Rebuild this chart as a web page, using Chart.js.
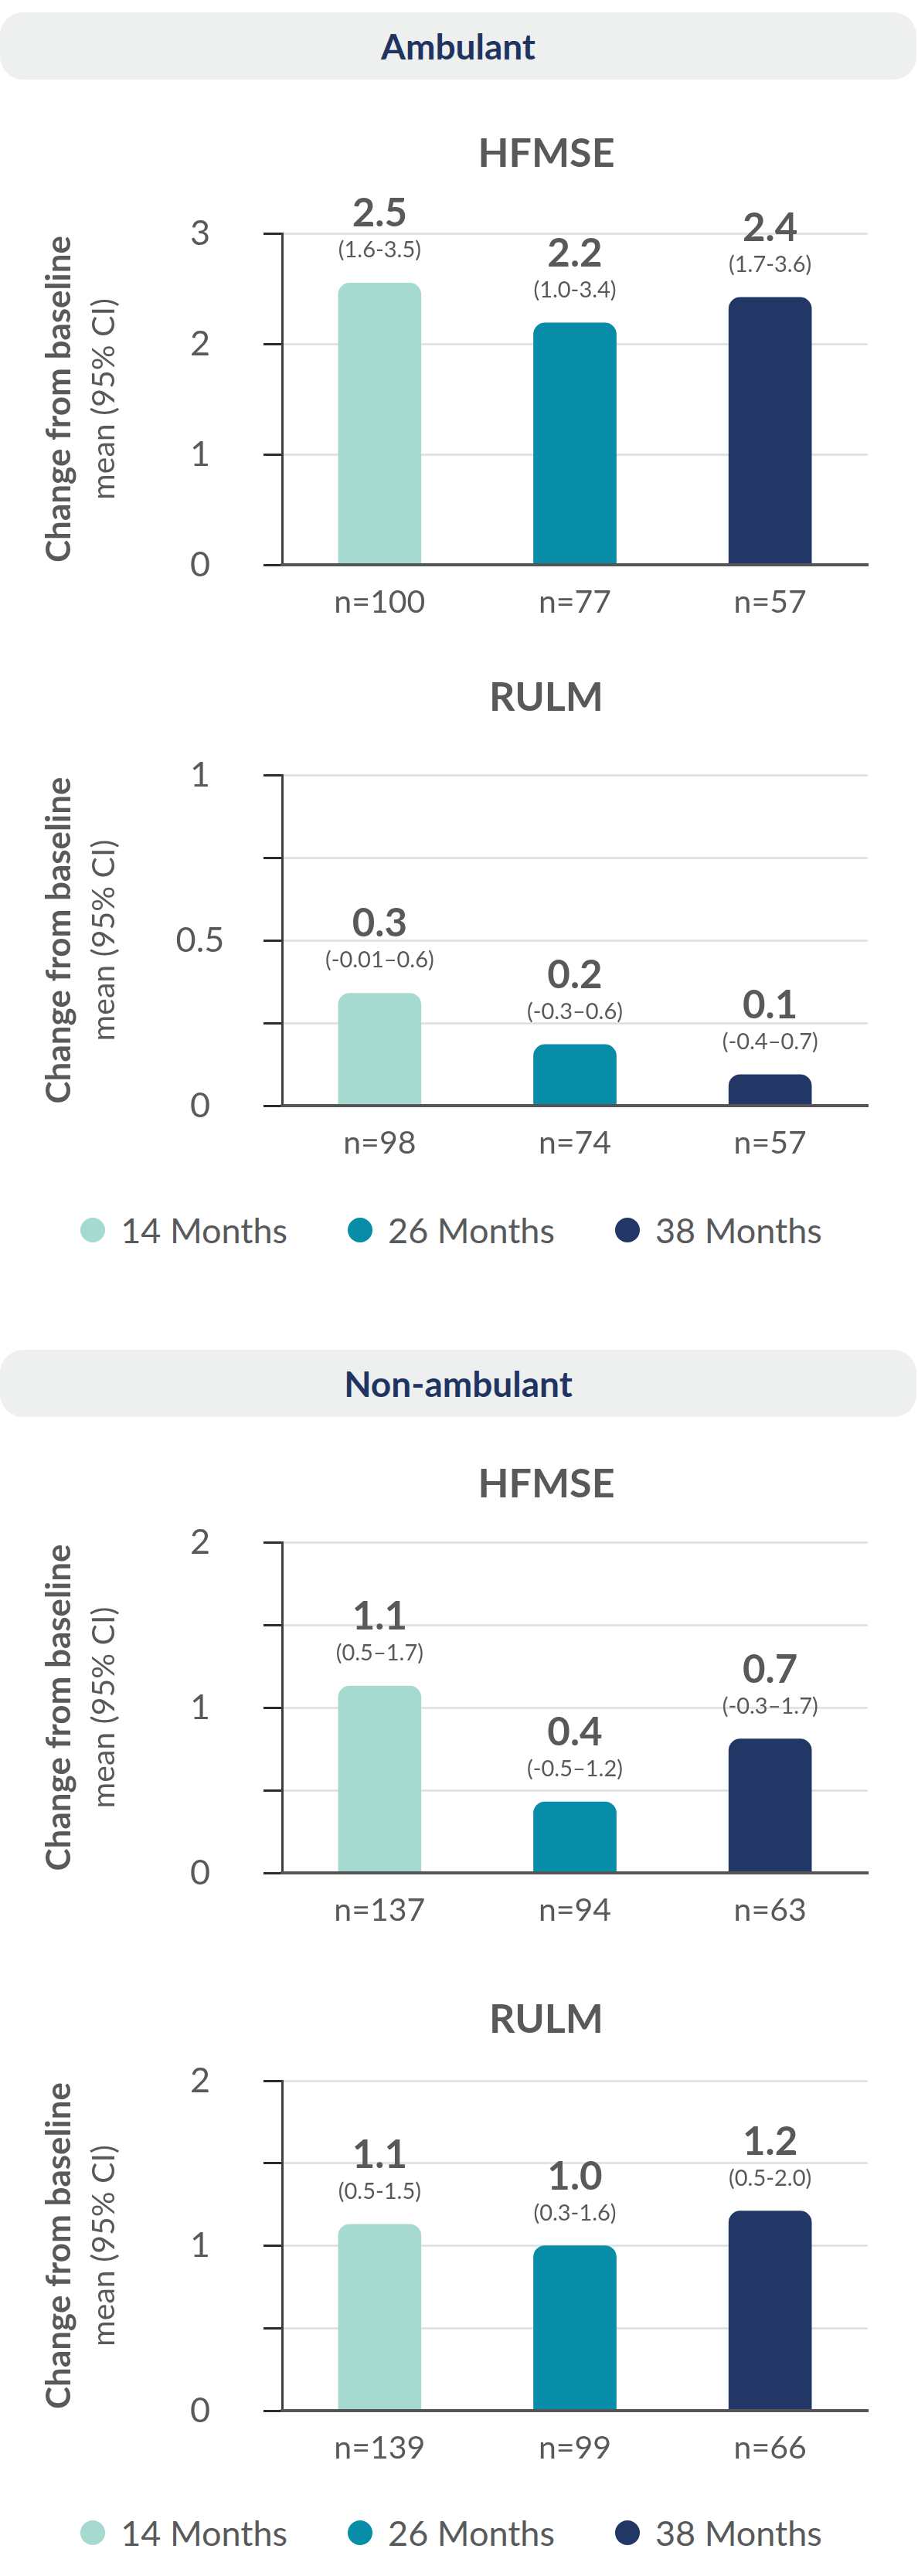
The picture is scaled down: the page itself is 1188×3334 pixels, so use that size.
<!DOCTYPE html>
<html>
<head>
<meta charset="utf-8">
<title>Change from baseline</title>
<script src="https://cdn.jsdelivr.net/npm/chart.js@4.4.1/dist/chart.umd.min.js"></script>
<style>
  html, body { margin: 0; padding: 0; background: #fff; }
  body { position: relative; width: 1188px; height: 3334px; overflow: hidden; font-family: Lato, "Open Sans", sans-serif; }
  .group-head { position: absolute; left: 0; width: 1186px; height: 87px; background: #eef0ef; border-radius: 30px;
                color: #1f3461; font-weight: 700; font-size: 46px; display: flex; align-items: center; justify-content: center; }
  .panel { position: absolute; left: 0; }
  .panel canvas { display: block; }
  .legend { position: absolute; left: 0; width: 1168px; padding-right: 20px; height: 54px; line-height: 54px;
            display: flex; justify-content: center; gap: 78px; font-size: 45px; font-weight: 400; color: #58595b; }
  .legend .item { display: flex; align-items: center; }
  .legend i { display: inline-block; width: 32px; height: 32px; border-radius: 50%; margin-right: 20px; }
</style>
</head>
<body>

<div class="group-head" style="top:16px">Ambulant</div>
<div class="panel" style="top:149px"><canvas id="ambHfmse" width="1188" height="680"></canvas></div>
<div class="panel" style="top:853px"><canvas id="ambRulm" width="1188" height="676"></canvas></div>
<div class="legend" id="legend1" style="top:1565px"></div>

<div class="group-head" style="top:1747px">Non-ambulant</div>
<div class="panel" style="top:1871px"><canvas id="nonHfmse" width="1188" height="651"></canvas></div>
<div class="panel" style="top:2564px"><canvas id="nonRulm" width="1188" height="654"></canvas></div>
<div class="legend" id="legend2" style="top:3251px"></div>

<script>
// visit groups, shared by every panel
const categories = ['14 Months', '26 Months', '38 Months'];
const barColors = ['#a6d9d0', '#078da8', '#223766'];

// ambulant, HFMSE
const ambHfmseN = ['n=100', 'n=77', 'n=57'];
const ambHfmseValues = [2.55, 2.19, 2.42];
const ambHfmseLabels = ['2.5', '2.2', '2.4'];
const ambHfmseCI = ['(1.6-3.5)', '(1.0-3.4)', '(1.7-3.6)'];

// ambulant, RULM
const ambRulmN = ['n=98', 'n=74', 'n=57'];
const ambRulmValues = [0.34, 0.185, 0.094];
const ambRulmLabels = ['0.3', '0.2', '0.1'];
const ambRulmCI = ['(-0.01\u20130.6)', '(-0.3\u20130.6)', '(-0.4\u20130.7)'];

// non-ambulant, HFMSE
const nonHfmseN = ['n=137', 'n=94', 'n=63'];
const nonHfmseValues = [1.13, 0.43, 0.81];
const nonHfmseLabels = ['1.1', '0.4', '0.7'];
const nonHfmseCI = ['(0.5\u20131.7)', '(-0.5\u20131.2)', '(-0.3\u20131.7)'];

// non-ambulant, RULM
const nonRulmN = ['n=139', 'n=99', 'n=66'];
const nonRulmValues = [1.13, 1.0, 1.21];
const nonRulmLabels = ['1.1', '1.0', '1.2'];
const nonRulmCI = ['(0.5-1.5)', '(0.3-1.6)', '(0.5-2.0)'];

const textGray = '#58595b';
const FONT = 'Lato';

// value + CI above each bar, the panel title and the second line of the y title
const panelText = {
    id: 'panelText',
    afterDatasetsDraw(chart, args, opts) {
        const { ctx, chartArea } = chart;
        const bars = chart.getDatasetMeta(0).data;
        ctx.save();
        ctx.fillStyle = textGray;
        ctx.textAlign = 'center';
        ctx.textBaseline = 'alphabetic';
        bars.forEach((bar, i) => {
            ctx.font = '700 51px ' + FONT;
            ctx.fillText(opts.valueLabels[i], bar.x, bar.y - 73);
            ctx.font = '400 29px ' + FONT;
            ctx.fillText(opts.ciLabels[i], bar.x, bar.y - 33);
        });

        ctx.font = '700 52px ' + FONT;
        ctx.textBaseline = 'middle';
        ctx.fillText(opts.title, chartArea.left + 342, 50);

        ctx.translate(135, (chartArea.top + chartArea.bottom) / 2);
        ctx.rotate(-Math.PI / 2);
        ctx.font = '400 41px ' + FONT;
        ctx.fillText('mean (95% CI)', 0, 0);
        ctx.restore();
    }
};

function fmt(v) {
    return String(Math.round(v * 100) / 100);
}

function makePanel(id, title, nLabels, values, valueLabels, ciLabels, yMax, yStep, labelStep, padTop) {
    const ctx = document.getElementById(id).getContext('2d');
    const isLabel = v => Math.abs(v / labelStep - Math.round(v / labelStep)) < 1e-6;

    // tick labels sit centred on x=259; padding depends on the widest one
    ctx.font = '400 45px ' + FONT;
    let widest = 0;
    for (let k = 0; k * labelStep <= yMax + 1e-9; k++) {
        widest = Math.max(widest, ctx.measureText(fmt(k * labelStep)).width);
    }

    new Chart(ctx, {
        type: 'bar',
        data: {
            labels: nLabels,
            datasets: [{
                label: title,
                data: values,
                backgroundColor: barColors,
                borderRadius: 15,
                borderSkipped: 'start',
                barThickness: 107
            }]
        },
        options: {
            responsive: false,
            animation: false,
            layout: { padding: { top: padTop, right: 65, bottom: 0, left: 0 } },
            plugins: {
                legend: { display: false },
                tooltip: { enabled: false },
                panelText: { title: title, valueLabels: valueLabels, ciLabels: ciLabels }
            },
            scales: {
                x: {
                    grid: { display: false, drawTicks: false },
                    border: { color: '#555', width: 4, z: 1 },
                    ticks: {
                        padding: 24,
                        color: textGray,
                        font: { family: FONT, size: 41, weight: 400, lineHeight: 1.2 }
                    },
                    afterFit: s => { s.height = 98; }
                },
                y: {
                    min: 0,
                    max: yMax,
                    ticks: {
                        stepSize: yStep,
                        crossAlign: 'center',
                        padding: 82 - widest / 2,
                        color: textGray,
                        font: { family: FONT, size: 45, weight: 400, lineHeight: 1.2 },
                        callback: v => isLabel(v) ? fmt(v) : ''
                    },
                    grid: {
                        color: c => c.tick && c.tick.value === 0 ? 'rgba(0,0,0,0)' : '#e3e3e3',
                        lineWidth: 3,
                        tickColor: '#2b2b2b',
                        tickWidth: 3,
                        tickLength: 24
                    },
                    border: { color: '#3f3f3f', width: 3 },
                    title: {
                        display: true,
                        text: 'Change from baseline',
                        color: textGray,
                        font: { family: FONT, size: 44, weight: 700, lineHeight: 1.2 },
                        padding: { top: 77 - 26.4, bottom: 0 }
                    },
                    afterFit: s => { s.width = 365; }
                }
            }
        },
        plugins: [panelText]
    });
}

function makeLegend(id) {
    const el = document.getElementById(id);
    categories.forEach((c, i) => {
        const item = document.createElement('span');
        item.className = 'item';
        const dot = document.createElement('i');
        dot.style.background = barColors[i];
        item.appendChild(dot);
        item.appendChild(document.createTextNode(c));
        el.appendChild(item);
    });
}

makePanel('ambHfmse', 'HFMSE', ambHfmseN, ambHfmseValues, ambHfmseLabels, ambHfmseCI, 3, 1, 1, 153);
makePanel('ambRulm', 'RULM', ambRulmN, ambRulmValues, ambRulmLabels, ambRulmCI, 1, 0.25, 0.5, 150);
makePanel('nonHfmse', 'HFMSE', nonHfmseN, nonHfmseValues, nonHfmseLabels, nonHfmseCI, 2, 0.5, 1, 125);
makePanel('nonRulm', 'RULM', nonRulmN, nonRulmValues, nonRulmLabels, nonRulmCI, 2, 0.5, 1, 129);
makeLegend('legend1');
makeLegend('legend2');
</script>
</body>
</html>
